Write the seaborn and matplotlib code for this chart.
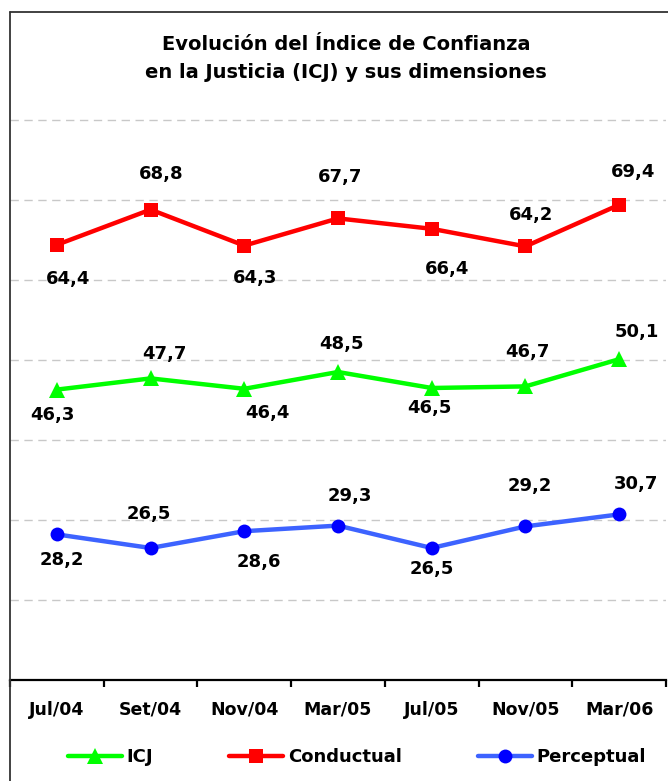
import matplotlib
matplotlib.use("Agg")
import matplotlib.pyplot as plt
import seaborn as sns
import pandas as pd
from matplotlib.lines import Line2D

# data
periods = ["Jul/04", "Set/04", "Nov/04", "Mar/05", "Jul/05", "Nov/05", "Mar/06"]
icj = [46.3, 47.7, 46.4, 48.5, 46.5, 46.7, 50.1]
conductual = [64.4, 68.8, 64.3, 67.7, 66.4, 64.2, 69.4]
perceptual = [28.2, 26.5, 28.6, 29.3, 26.5, 29.2, 30.7]

# label offsets (pixels, dx right / dy up) to mimic the hand placed labels
off_icj = [(-4, -25), (14, 24), (23, -24), (3, 28), (-2, -20), (2, 34), (18, 27)]
off_cond = [(11, -34), (11, 36), (11, -32), (2, 41), (15, -40), (6, 31), (14, 33)]
off_perc = [(5, -26), (-2, 34), (15, -31), (12, 30), (0, -21), (4, 40), (17, 30)]

df = pd.DataFrame({
    "pos": list(range(len(periods))) * 3,
    "valor": icj + conductual + perceptual,
    "serie": ["ICJ"] * 7 + ["Conductual"] * 7 + ["Perceptual"] * 7,
})

sns.set_style("white")
plt.rcParams["font.family"] = ["DejaVu Sans"]
plt.rcParams["text.color"] = "black"
plt.rcParams["xtick.color"] = "black"

W, H = 668, 781
fig = plt.figure(figsize=(W / 100, H / 100), dpi=100)
ax = fig.add_axes([10 / W, (H - 680) / H, 656 / W, 580 / H])

styles = {
    "ICJ": dict(color="#00FF00", marker="^", mfc="#00FF00", ms=11),
    "Conductual": dict(color="#FF0000", marker="s", mfc="#FF0000", ms=10),
    "Perceptual": dict(color="#3D63FF", marker="o", mfc="#0000FF", ms=10),
}

for name in ["ICJ", "Conductual", "Perceptual"]:
    st = styles[name]
    sub = df[df["serie"] == name]
    sns.lineplot(data=sub, x="pos", y="valor", ax=ax, color=st["color"],
                 linewidth=3.2, marker=st["marker"], markersize=st["ms"],
                 markerfacecolor=st["mfc"], markeredgecolor=st["mfc"],
                 markeredgewidth=0, legend=False)

for vals, offs in [(icj, off_icj), (conductual, off_cond), (perceptual, off_perc)]:
    for i, (v, o) in enumerate(zip(vals, offs)):
        ax.annotate(f"{v:.1f}".replace(".", ","), (i, v), xytext=o,
                    textcoords="offset pixels", ha="center", va="center",
                    fontsize=13, fontweight="bold", color="black")

ax.set_xlim(-0.5, 6.5)
ax.set_ylim(10, 82.5)
ax.set_xlabel("")
ax.set_ylabel("")
ax.set_yticks([20, 30, 40, 50, 60, 70, 80])
ax.set_yticklabels([])
ax.tick_params(axis="y", length=0)
ax.yaxis.grid(True, color="#C8C8C8", linestyle=(0, (6, 4)), linewidth=1)
ax.xaxis.grid(False)

ax.set_xticks(range(len(periods)))
ax.set_xticklabels(periods, fontsize=12.5, fontweight="bold", color="black")
ax.set_xticks([i - 0.5 for i in range(len(periods) + 1)], minor=True)
ax.tick_params(axis="x", which="major", bottom=True, length=0, pad=15)
ax.tick_params(axis="x", which="minor", bottom=True, length=5, width=1.6,
               direction="out", color="black")

for s in ["top", "right", "left"]:
    ax.spines[s].set_visible(False)
ax.spines["bottom"].set_color("black")
ax.spines["bottom"].set_linewidth(1.6)

# outer chart frame (only top and left edges show)
fig.add_artist(Line2D([10 / W, 10 / W], [0, 1 - 12 / H], color="#333333",
                      linewidth=1.3, transform=fig.transFigure))
fig.add_artist(Line2D([10 / W, 1], [1 - 12 / H, 1 - 12 / H], color="#333333",
                      linewidth=1.3, transform=fig.transFigure))

fig.text(346 / W, 1 - 45 / H, "Evolución del Índice de Confianza",
         ha="center", va="center", fontsize=14, fontweight="bold", color="black")
fig.text(346 / W, 1 - 73 / H, "en la Justicia (ICJ) y sus dimensiones",
         ha="center", va="center", fontsize=14, fontweight="bold", color="black")

handles = [
    Line2D([], [], color=styles[n]["color"], linewidth=3.2, marker=styles[n]["marker"],
           markersize=styles[n]["ms"], markerfacecolor=styles[n]["mfc"],
           markeredgewidth=0)
    for n in ["ICJ", "Conductual", "Perceptual"]
]
fig.legend(handles, ["ICJ", "Conductual", "Perceptual"], loc="center",
           bbox_to_anchor=(357 / W, 1 - 757 / H), ncol=3, frameon=False,
           handlelength=3, handletextpad=0.25, columnspacing=4.2,
           prop={"size": 13, "weight": "bold"})

fig.savefig("out.png", dpi=100)
